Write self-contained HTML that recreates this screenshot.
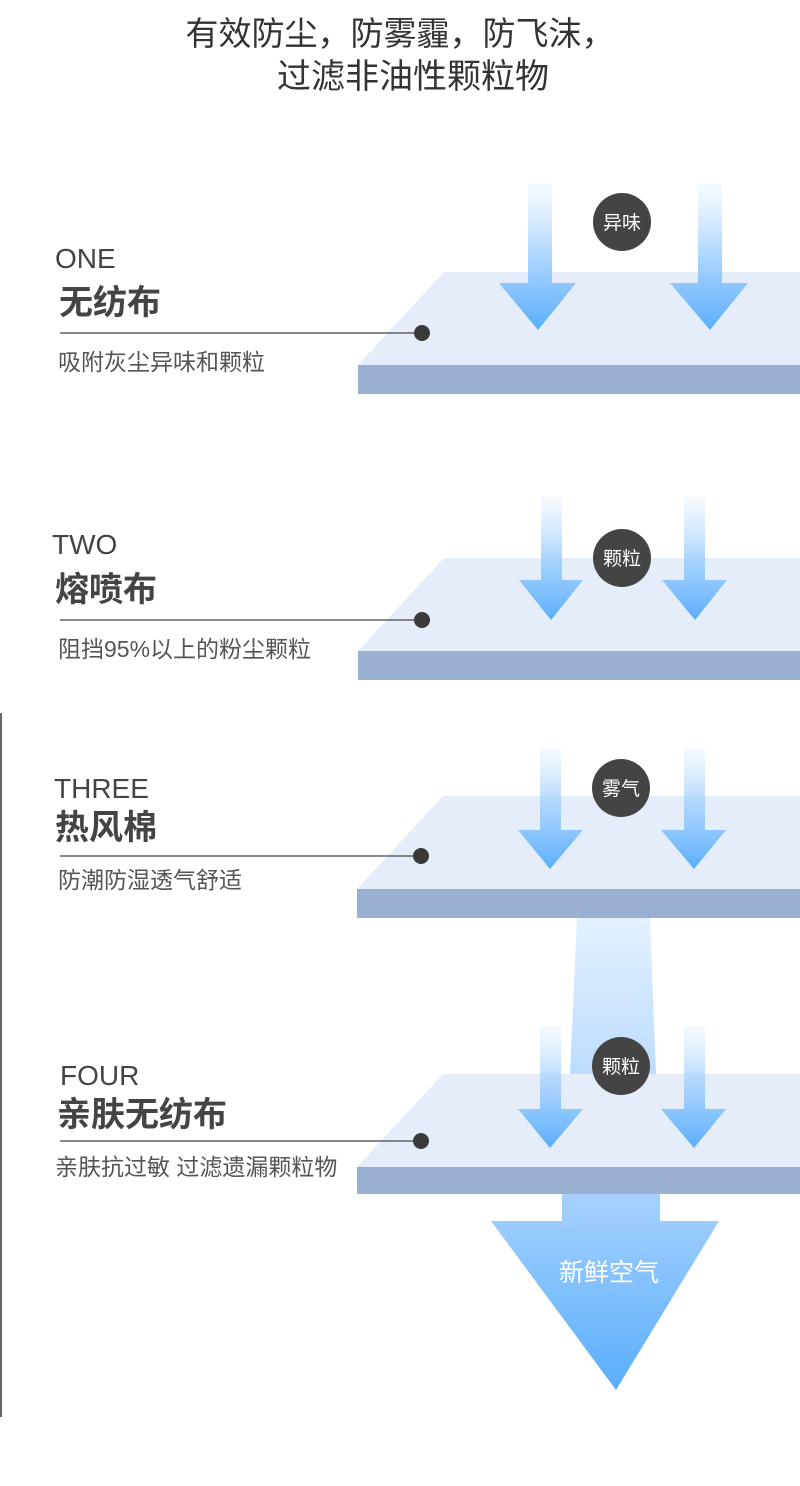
<!DOCTYPE html>
<html><head><meta charset="utf-8"><style>
body{margin:0;background:#fff}
svg{display:block}
text{font-family:"Liberation Sans","Noto Sans CJK SC",sans-serif}
</style></head><body>
<svg width="800" height="1486" viewBox="0 0 800 1486" xmlns="http://www.w3.org/2000/svg">
<defs>
<linearGradient id="g" x1="0" y1="0" x2="0" y2="1">
<stop offset="0" stop-color="#cfe6ff" stop-opacity="0.2"/>
<stop offset="0.45" stop-color="#a7d3ff" stop-opacity="0.85"/>
<stop offset="1" stop-color="#5aaefc"/>
</linearGradient>
<linearGradient id="gs" x1="0" y1="0" x2="0" y2="1">
<stop offset="0" stop-color="#e3f1ff"/>
<stop offset="1" stop-color="#bcdcfd"/>
</linearGradient>
<linearGradient id="gb" x1="0" y1="0" x2="0" y2="1">
<stop offset="0" stop-color="#a6d1fd"/>
<stop offset="1" stop-color="#5aaefc"/>
</linearGradient>
</defs>
<text x="400" y="45" font-size="33" fill="#333" text-anchor="middle">有效防尘，防雾霾，防飞沫，</text>
<text x="413" y="88" font-size="34" fill="#333" text-anchor="middle">过滤非油性颗粒物</text>

<line x1="1" y1="713" x2="1" y2="1417" stroke="#333" stroke-width="1.5"/>

<path d="M577,918 L650,918 L656,1074 L570,1074Z" fill="url(#gs)"/>

<!-- Layer 1 -->
<polygon points="358,365 444,272 800,272 800,365" fill="#e4edf9"/>
<rect x="358" y="365" width="442" height="29" fill="#9ab0d2"/>
<path d="M528,183 L552,183 L552,283 L576,283 L538,330 L499,283 L528,283Z" fill="url(#g)"/>
<path d="M698,183 L722,183 L722,283 L748,283 L710,330 L670,283 L698,283Z" fill="url(#g)"/>
<circle cx="622" cy="222" r="29" fill="#444"/>
<text x="622" y="229" font-size="19" fill="#fff" text-anchor="middle">异味</text>
<line x1="60" y1="333" x2="422" y2="333" stroke="#444" stroke-width="1.2"/>
<circle cx="422" cy="333" r="8" fill="#3a3a3a"/>
<text x="55" y="268" font-size="28" fill="#444">ONE</text>
<text x="59" y="314" font-size="34" font-weight="bold" fill="#444">无纺布</text>
<text x="58" y="370" font-size="23" fill="#555">吸附灰尘异味和颗粒</text>

<!-- Layer 2 -->
<polygon points="358,651 444,558 800,558 800,651" fill="#e4edf9"/>
<rect x="358" y="651" width="442" height="29" fill="#9ab0d2"/>
<path d="M541,497 L562,497 L562,580 L583,580 L551,620 L519,580 L541,580Z" fill="url(#g)"/>
<path d="M684,497 L705,497 L705,580 L727,580 L695,620 L662,580 L684,580Z" fill="url(#g)"/>
<circle cx="622" cy="558" r="29" fill="#444"/>
<text x="622" y="565" font-size="19" fill="#fff" text-anchor="middle">颗粒</text>
<line x1="60" y1="620" x2="422" y2="620" stroke="#444" stroke-width="1.2"/>
<circle cx="422" cy="620" r="8" fill="#3a3a3a"/>
<text x="52" y="554" font-size="28" fill="#444">TWO</text>
<text x="55" y="601" font-size="34" font-weight="bold" fill="#444">熔喷布</text>
<text x="58" y="657" font-size="23" fill="#555">阻挡95%以上的粉尘颗粒</text>

<!-- Layer 3 -->
<polygon points="357,889 443,796 800,796 800,889" fill="#e4edf9"/>
<rect x="357" y="889" width="443" height="29" fill="#9ab0d2"/>
<path d="M540,747 L561,747 L561,830 L583,830 L550,869 L518,830 L540,830Z" fill="url(#g)"/>
<path d="M684,747 L705,747 L705,830 L726,830 L694,869 L661,830 L684,830Z" fill="url(#g)"/>
<circle cx="621" cy="788" r="29" fill="#444"/>
<text x="621" y="795" font-size="19" fill="#fff" text-anchor="middle">雾气</text>
<line x1="60" y1="856" x2="421" y2="856" stroke="#444" stroke-width="1.2"/>
<circle cx="421" cy="856" r="8" fill="#3a3a3a"/>
<text x="54" y="798" font-size="28" fill="#444">THREE</text>
<text x="55" y="839" font-size="34" font-weight="bold" fill="#444">热风棉</text>
<text x="58" y="888" font-size="23" fill="#555">防潮防湿透气舒适</text>

<!-- Layer 4 -->
<polygon points="357,1167 443,1074 800,1074 800,1167" fill="#e4edf9"/>
<rect x="357" y="1167" width="443" height="27" fill="#9ab0d2"/>
<path d="M540,1026 L561,1026 L561,1109 L583,1109 L550,1148 L518,1109 L540,1109Z" fill="url(#g)"/>
<path d="M684,1026 L705,1026 L705,1109 L726,1109 L694,1148 L661,1109 L684,1109Z" fill="url(#g)"/>
<circle cx="621" cy="1066" r="29" fill="#444"/>
<text x="621" y="1073" font-size="19" fill="#fff" text-anchor="middle">颗粒</text>
<line x1="60" y1="1141" x2="421" y2="1141" stroke="#444" stroke-width="1.2"/>
<circle cx="421" cy="1141" r="8" fill="#3a3a3a"/>
<text x="60" y="1085" font-size="28" fill="#444">FOUR</text>
<text x="57" y="1126" font-size="34" font-weight="bold" fill="#444">亲肤无纺布</text>
<text x="55" y="1175" font-size="23" fill="#555">亲肤抗过敏 过滤遗漏颗粒物</text>

<path d="M562,1194 L660,1194 L660,1221 L719,1221 L616,1390 L491,1221 L562,1221Z" fill="url(#gb)"/>
<text x="609" y="1281" font-size="25" fill="#fff" text-anchor="middle">新鲜空气</text>
</svg>
</body></html>
